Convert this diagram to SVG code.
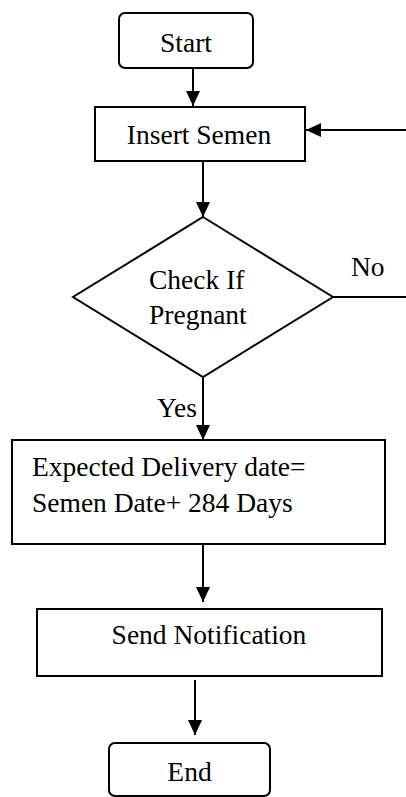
<svg xmlns="http://www.w3.org/2000/svg" width="406" height="797" viewBox="0 0 406 797">
<defs>
<style>
.box{fill:#fff;stroke:#000;stroke-width:2}
.ln{fill:none;stroke:#000;stroke-width:2}
.t{font-family:"Liberation Serif","Times New Roman",serif;font-size:27.5px;fill:#000}
.c{text-anchor:middle}
</style>
<marker id="ah" viewBox="0 0 15 14" refX="15" refY="7" markerWidth="15" markerHeight="14" markerUnits="userSpaceOnUse" orient="auto">
<path d="M0,0 L15,7 L0,14 Z" fill="#000"/>
</marker>
</defs>
<rect width="406" height="797" fill="#fff"/>
<g id="connectors">
<line class="ln" x1="193" y1="68" x2="193" y2="106" marker-end="url(#ah)"/>
<line class="ln" x1="406" y1="130" x2="306" y2="130" marker-end="url(#ah)"/>
<line class="ln" x1="203" y1="161" x2="203" y2="217" marker-end="url(#ah)"/>
<line class="ln" x1="333" y1="297" x2="406" y2="297"/>
<line class="ln" x1="203" y1="378" x2="203" y2="440" marker-end="url(#ah)"/>
<line class="ln" x1="203" y1="545" x2="203" y2="602" marker-end="url(#ah)"/>
<line class="ln" x1="195" y1="680" x2="195" y2="735" marker-end="url(#ah)"/>
<text class="t" x="351" y="276">No</text>
<text class="t" x="157" y="417">Yes</text>
</g>
<g id="start">
<rect class="box" x="119" y="13" width="134" height="55" rx="6"/>
<text class="t c" x="186" y="52">Start</text>
</g>
<g id="insert">
<rect class="box" x="95" y="107" width="210" height="54"/>
<text class="t c" x="199" y="144">Insert Semen</text>
</g>
<g id="check">
<polygon class="box" points="203,217 333,297 203,377 73,297"/>
<text class="t" x="149" y="289">Check If</text>
<text class="t" x="149" y="324">Pregnant</text>
</g>
<g id="expected">
<rect class="box" x="12" y="440" width="373" height="104"/>
<text class="t" x="32" y="476">Expected Delivery date=</text>
<text class="t" x="32" y="512">Semen Date+ 284 Days</text>
</g>
<g id="send">
<rect class="box" x="37" y="609" width="345" height="67"/>
<text class="t c" x="209" y="644">Send Notification</text>
</g>
<g id="end">
<rect class="box" x="109" y="743" width="161" height="53" rx="6"/>
<text class="t c" x="189.5" y="781">End</text>
</g>
</svg>
